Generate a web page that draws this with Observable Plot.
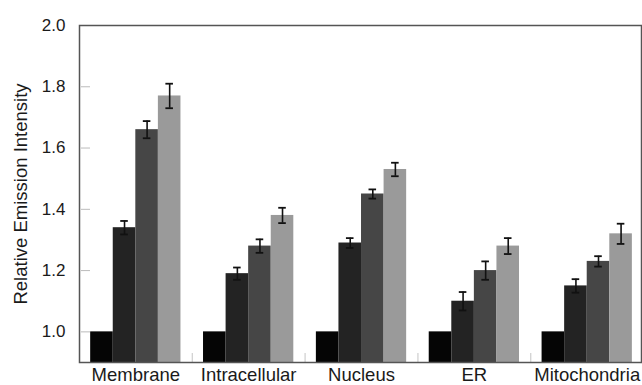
<!DOCTYPE html>
<html>
<head>
<meta charset="utf-8">
<script src="https://cdn.jsdelivr.net/npm/d3@7"></script>
<script src="https://cdn.jsdelivr.net/npm/@observablehq/plot@0.6"></script>
<style>
  html, body { margin: 0; padding: 0; background: #fff; }
  #chart svg { display: block; }
</style>
</head>
<body>
<div id="chart"></div>
<script>
// ---- data ----
const groups = ["Membrane", "Intracellular", "Nucleus", "ER", "Mitochondria"];
const series = ["Series 1", "Series 2", "Series 3", "Series 4"];
const values1 = [1.00, 1.00, 1.00, 1.00, 1.00];
const values2 = [1.34, 1.19, 1.29, 1.10, 1.15];
const values3 = [1.66, 1.28, 1.45, 1.20, 1.23];
const values4 = [1.77, 1.38, 1.53, 1.28, 1.32];
const errors1 = [0, 0, 0, 0, 0];
const errors2 = [0.022, 0.020, 0.016, 0.030, 0.022];
const errors3 = [0.028, 0.022, 0.015, 0.030, 0.017];
const errors4 = [0.040, 0.025, 0.022, 0.026, 0.033];
const yTicks = [1.0, 1.2, 1.4, 1.6, 1.8, 2.0];
const yDomain = [0.9, 2.0];
const colors = ["#050505", "#232323", "#464646", "#9a9a9a"];

const allValues = [values1, values2, values3, values4];
const allErrors = [errors1, errors2, errors3, errors4];

// table built from the arrays
const data = [];
groups.forEach((g, gi) => {
  series.forEach((s, si) => {
    data.push({group: g, series: s, key: g + "|" + s, value: allValues[si][gi], err: allErrors[si][gi]});
  });
});

// band domain: the bars of each group, with one empty slot between groups
const keys = [];
const gapKeys = [];
groups.forEach((g, gi) => {
  series.forEach(s => keys.push(g + "|" + s));
  if (gi < groups.length - 1) { keys.push("gap" + gi); gapKeys.push("gap" + gi); }
});
const labelKeys = groups.map(g => g + "|" + series[2]);

const W = 642, H = 385;
const M = {top: 25, right: 1, bottom: 23, left: 79};
const paddingOuter = 0.45;
const step = (W - M.left - M.right) / (keys.length + 2 * paddingOuter);

const font = "'Liberation Sans', Arial, Helvetica, sans-serif";
const withErr = data.filter(d => d.err > 0);

const chart = Plot.plot({
  width: W,
  height: H,
  marginTop: M.top,
  marginRight: M.right,
  marginBottom: M.bottom,
  marginLeft: M.left,
  style: {fontFamily: font, color: "#1a1a1a", background: "#fff"},
  x: {type: "band", domain: keys, paddingInner: 0, paddingOuter: paddingOuter, align: 0.55, round: false},
  y: {domain: yDomain, clamp: true},
  color: {domain: series, range: colors},
  marks: [
    Plot.barY(data, {x: "key", y: "value", fill: "series"}),
    Plot.ruleX(withErr, {x: "key", y1: d => d.value - d.err, y2: d => d.value + d.err, stroke: "#111", strokeWidth: 1.6}),
    Plot.tickY(withErr, {x: "key", y: d => d.value + d.err, stroke: "#111", strokeWidth: 1.8, inset: 7.5}),
    Plot.tickY(withErr, {x: "key", y: d => d.value - d.err, stroke: "#111", strokeWidth: 1.8, inset: 7.5}),
    // inner y tick marks (shifted inside the frame)
    Plot.axisY({ticks: yTicks, tickSize: 9, dx: 11, text: null, label: null, stroke: "#bbb"}),
    // y tick labels
    Plot.axisY({ticks: yTicks, tickSize: 0, tickPadding: 14, tickFormat: d3.format(".1f"), fontSize: 17, label: null}),
    // y title
    Plot.axisY({ticks: [], tickSize: 0, text: null, fontSize: 18.5,
      label: "Relative Emission Intensity", labelAnchor: "center", labelArrow: "none", labelOffset: 66}),
    // small marks between groups at the bottom (shifted inside the frame)
    Plot.axisX({ticks: gapKeys, tickSize: 9, dy: -9, text: null, label: null, stroke: "#c4c4c4"}),
    // group labels
    Plot.axisX({ticks: labelKeys, tickSize: 0, tickPadding: 5, tickFormat: k => k.split("|")[0],
      dx: -step / 2, fontSize: 18.5, label: null}),
    Plot.frame({stroke: "#555", strokeWidth: 1.5})
  ]
});

document.getElementById("chart").appendChild(chart);
</script>
</body>
</html>
